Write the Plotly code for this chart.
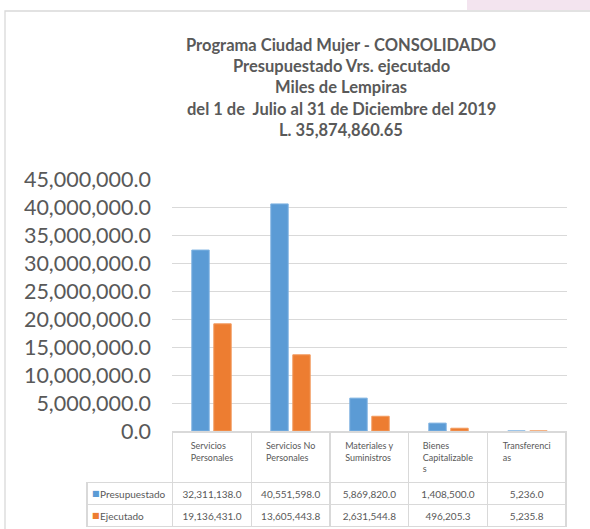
import plotly.graph_objects as go

# ---- data ----
categories = ["Servicios Personales", "Servicios No Personales", "Materiales y Suministros",
              "Bienes Capitalizables", "Transferencias"]
header_labels = ["Servicios<br>Personales", "Servicios No<br>Personales", "Materiales y<br>Suministros",
                 "Bienes<br>Capitalizable<br>s", "Transferenci<br>as"]
presupuestado = [32311138.0, 40551598.0, 5869820.0, 1408500.0, 5236.0]
ejecutado = [19136431.0, 13605443.8, 2631544.8, 496205.3, 5235.8]
series_names = ["Presupuestado", "Ejecutado"]
series_colors = ["#5B9BD5", "#ED7D31"]
title_lines = ["Programa Ciudad Mujer - CONSOLIDADO", "Presupuestado Vrs. ejecutado",
               "Miles de Lempiras", "del 1 de  Julio al 31 de Diciembre del 2019",
               "L. 35,874,860.65"]
y_max = 45000000
y_step = 5000000

W, H = 590, 529
FONT = "Lato"
GREY = "#595959"
GRID = "#D9D9D9"

# table geometry (pixels)
TBL_LEFT, TBL_RIGHT, TBL_TOP = 87, 567, 432
HEADER_H, ROW_H = 50, 22


def px(x):
    return x / W


def py(y):
    return 1 - y / H


fig = go.Figure()

for name, vals, col, lc in zip(series_names, [presupuestado, ejecutado], series_colors,
                               ["#7FB3E2", "#F29A5E"]):
    fig.add_trace(go.Bar(x=categories, y=vals, name=name, marker=dict(color=col, line=dict(color=lc, width=1)),
                         showlegend=False))

# table below chart
row_labels = ["\u00a0\u00a0" + n for n in series_names]
cell_cols = [row_labels] + [[f"{p:,.1f}", f"{e:,.1f}"] for p, e in zip(presupuestado, ejecutado)]
fig.add_trace(go.Table(
    domain=dict(x=[px(TBL_LEFT), px(TBL_RIGHT)], y=[py(TBL_TOP + HEADER_H + 2 * ROW_H + 2), py(TBL_TOP)]),
    columnwidth=[86, 79, 79, 79, 79, 79],
    header=dict(values=[""] + header_labels,
                fill=dict(color=["rgba(0,0,0,0)"] + ["white"] * 5),
                line=dict(color=["rgba(0,0,0,0)"] + [GRID] * 5, width=1.5),
                font=dict(family=FONT, size=9, color=GREY),
                align="center", height=HEADER_H),
    cells=dict(values=cell_cols,
               fill=dict(color="white"),
               line=dict(color=GRID, width=1.5),
               font=dict(family=FONT, size=10, color=GREY),
               align=["left"] + ["center"] * 5, height=ROW_H),
))

# legend keys inside the row-label cells
for i, c in enumerate(series_colors):
    fig.add_annotation(text="■", xref="paper", yref="paper", x=px(TBL_LEFT + 8.5),
                       y=py(TBL_TOP + HEADER_H + ROW_H * (i + 0.5)),
                       xanchor="center", yanchor="middle", showarrow=False,
                       font=dict(family="DejaVu Sans", size=8, color=c))

tickvals = list(range(0, y_max + 1, y_step))
fig.update_layout(
    width=W, height=H,
    margin=dict(l=0, r=0, t=0, b=0, autoexpand=False),
    paper_bgcolor="white", plot_bgcolor="white",
    barmode="group", bargap=0.443, bargroupgap=0.21,
    font=dict(family=FONT, color=GREY),
    xaxis=dict(domain=[px(172), px(567)], showticklabels=False, showline=False, showgrid=False,
               ticks="", zeroline=False, automargin=False),
    yaxis=dict(domain=[py(431), py(179)], range=[0, y_max], tickvals=tickvals, tickformat=",.1f",
               showgrid=True, gridcolor=GRID, gridwidth=1.3, zeroline=False, showline=False,
               automargin=False,
               tickfont=dict(family=FONT, size=21.5, color=GREY), ticklabelstandoff=20),
    shapes=[
        dict(type="rect", xref="paper", yref="paper", x0=px(467), x1=px(600), y0=py(0), y1=py(10),
             fillcolor="#F3E4EF", line=dict(width=0), layer="below"),
        dict(type="rect", xref="paper", yref="paper", x0=px(5), x1=px(640), y0=py(11), y1=py(580),
             fillcolor="rgba(0,0,0,0)", line=dict(color=GRID, width=1.3), layer="below"),
    ],
)

for i, line in enumerate(title_lines):
    fig.add_annotation(text=f"<b>{line}</b>", xref="paper", yref="paper", x=px(341), y=py(44.5 + 21.4 * i),
                       xanchor="center", yanchor="middle", showarrow=False,
                       font=dict(family=FONT, size=16.5, color=GREY))

fig.write_html("out.html", config={"displayModeBar": False},
               post_script="document.body.style.margin='0';document.body.style.overflow='hidden';")
